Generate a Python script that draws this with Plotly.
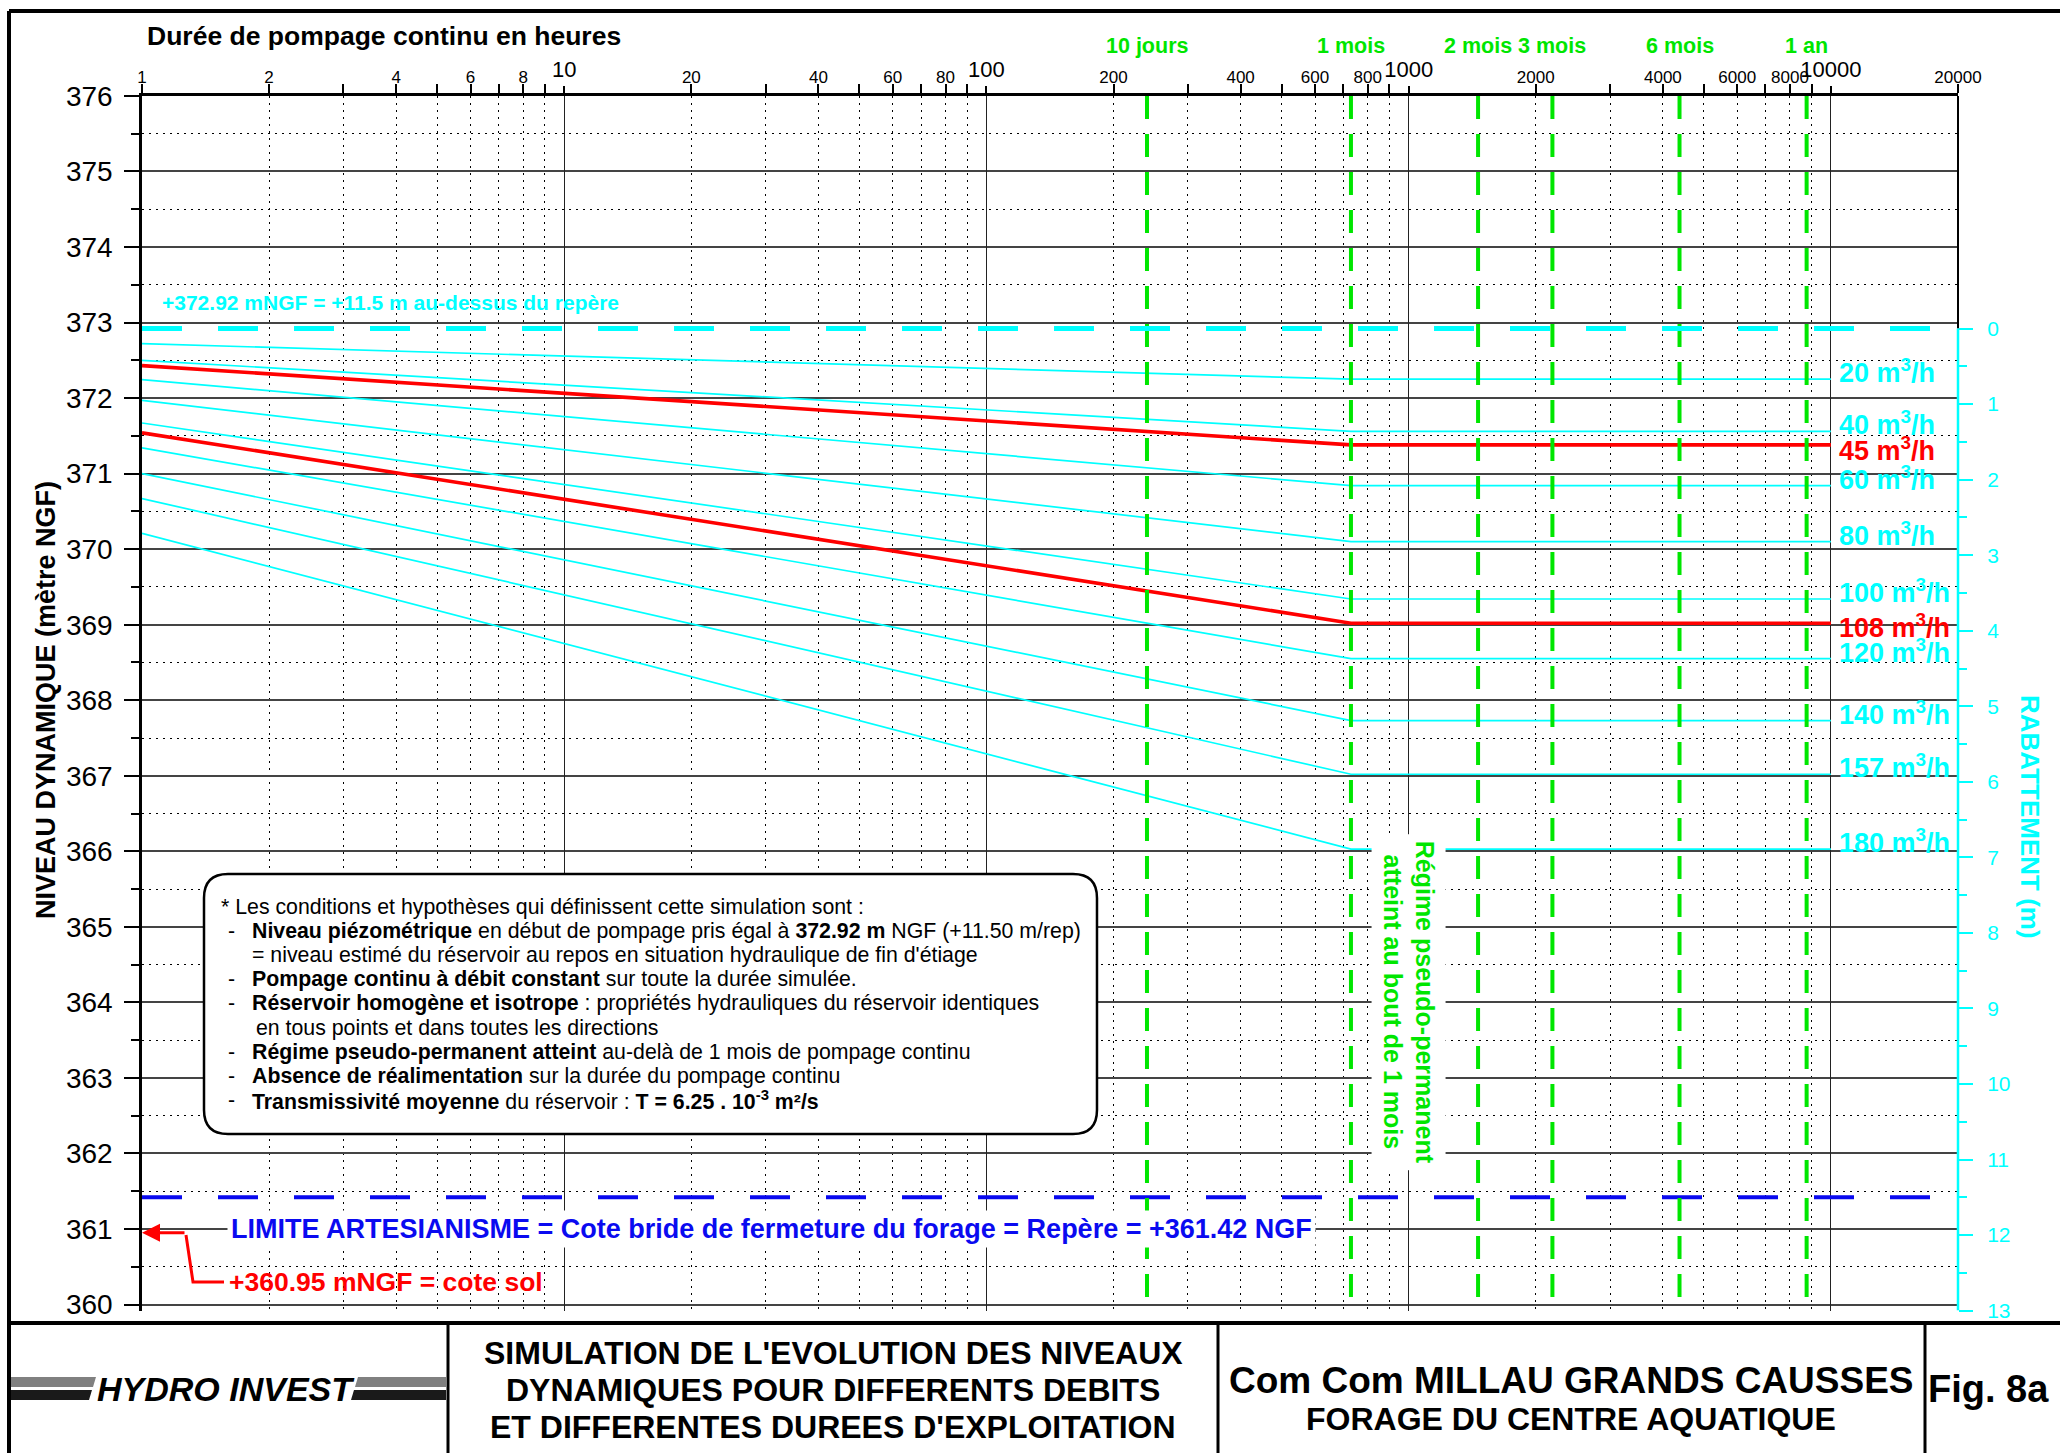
import numpy as np
import plotly.graph_objects as go

# ---------------- data ----------------
flow_rates = [20, 40, 45, 60, 80, 100, 108, 120, 140, 157, 180]          # m3/h
level_at_1h = [372.72, 372.50, 372.43, 372.245, 371.97, 371.67, 371.54,
               371.34, 371.00, 370.67, 370.21]                           # m NGF after 1 h
level_pseudo_perm = [372.25, 371.56, 371.38, 370.84, 370.10, 369.34, 369.02,
                     368.55, 367.73, 367.02, 366.03]                      # m NGF from 1 mois on
highlighted_rates = [45, 108]

t_first = 1          # h
t_pseudo_perm = 730  # h (1 mois)
t_last = 10000       # h

static_level = 372.92     # niveau piézométrique initial
artesian_limit = 361.42   # cote bride = repère
ground_level = 360.95     # cote sol

milestone_hours = [240, 730, 1460, 2190, 4380, 8760]
milestone_labels = ["10 jours", "1 mois", "2 mois", "3 mois", "6 mois", "1 an"]

level_ticks = list(range(360, 377))
drawdown_ticks = list(range(0, 14))
hour_small_labels = [1, 2, 4, 6, 8, 20, 40, 60, 80, 200, 400, 600, 800,
                     2000, 4000, 6000, 8000, 20000]
hour_decade_labels = [10, 100, 1000, 10000]

# ---------------- styles ----------------
W, H = 2060, 1453
CYAN = "#00FFFF"
RED = "#FF0000"
GREEN = "#00E600"
BLUE = "#0A0AF0"
FONT = "Liberation Sans, Arial, sans-serif"


def px(x):
    return x / W


def py(y):
    return 1 - y / H


x_min, x_max = 1, max(hour_small_labels)
y_bottom = static_level - max(drawdown_ticks)   # 359.92
y_top = max(level_ticks)

X_DOM = [px(142), px(1958)]
Y_DOM = [py(1310.6), py(95.9)]

fig = go.Figure()

# rate curves: cyan first, highlighted (red) later
order = [i for i, q in enumerate(flow_rates) if q not in highlighted_rates] + \
        [i for i, q in enumerate(flow_rates) if q in highlighted_rates]
for i in order:
    q = flow_rates[i]
    red = q in highlighted_rates
    fig.add_trace(go.Scatter(
        x=[t_first, t_pseudo_perm, t_last],
        y=[level_at_1h[i], level_pseudo_perm[i], level_pseudo_perm[i]],
        mode="lines", line=dict(color=RED if red else CYAN, width=3.6 if red else 1.7),
        hoverinfo="skip", showlegend=False))

# artesian limit
fig.add_trace(go.Scatter(x=[x_min, x_max], y=[artesian_limit, artesian_limit], mode="lines",
                         line=dict(color=BLUE, width=4, dash="40px,36px"),
                         hoverinfo="skip", showlegend=False))

# duration milestones
for h in milestone_hours:
    fig.add_trace(go.Scatter(x=[h, h], y=[y_top, level_ticks[0]], mode="lines",
                             line=dict(color=GREEN, width=4, dash="23px,15px"),
                             hoverinfo="skip", showlegend=False))

# static level = drawdown 0 (on the drawdown axis)
fig.add_trace(go.Scatter(x=[x_min, x_max], y=[0, 0], xaxis="x2", yaxis="y2", mode="lines",
                         line=dict(color=CYAN, width=5, dash="40px,36px"),
                         hoverinfo="skip", showlegend=False))

# ---------------- axes ----------------
all_hours = [m * 10 ** k for k in range(0, 4) for m in range(1, 10)] + [10000, 20000]
minor_hours = [v for v in all_hours if v not in [1, 10, 100, 1000, 10000]]
x_range = [np.log10(x_min), np.log10(x_max)]

fig.update_layout(
    template="none",
    width=W, height=H, autosize=False,
    margin=dict(l=0, r=0, t=0, b=0, pad=0),
    paper_bgcolor="white", plot_bgcolor="white",
    hovermode=False, showlegend=False,
    font=dict(family=FONT, color="black"),
    xaxis=dict(type="log", range=x_range, domain=X_DOM, side="top", anchor="y",
               automargin=False,
               tickmode="array", tickvals=hour_small_labels,
               ticktext=[str(v) for v in hour_small_labels],
               ticks="outside", ticklen=9, tickwidth=1.5, tickcolor="black",
               tickfont=dict(family=FONT, size=17, color="black"),
               ticklabelstandoff=-6,
               showgrid=False, zeroline=False,
               showline=True, linewidth=2.5, linecolor="black",
               minor=dict(tickmode="array", tickvals=minor_hours,
                          ticks="outside", ticklen=9, tickwidth=1.5, tickcolor="black",
                          showgrid=True, gridcolor="black", gridwidth=1, griddash="2px,5px")),
    xaxis2=dict(type="log", range=x_range, domain=X_DOM, side="top", anchor="y",
                overlaying="x", automargin=False,
                tickmode="array", tickvals=hour_decade_labels,
                ticktext=[str(v) for v in hour_decade_labels],
                ticks="outside", ticklen=9, tickwidth=1.5, tickcolor="black",
                tickfont=dict(family=FONT, size=22, color="black"),
                showgrid=True, gridcolor="#222222", gridwidth=1, zeroline=False,
                showline=False),
    yaxis=dict(range=[y_bottom, y_top], domain=Y_DOM, anchor="x", automargin=False,
               tickmode="array", tickvals=level_ticks, ticktext=[str(v) for v in level_ticks],
               ticks="outside", ticklen=15, tickwidth=2, tickcolor="black",
               tickfont=dict(family=FONT, size=28, color="black"),
               ticklabelstandoff=6,
               showgrid=True, gridcolor="#444444", gridwidth=1.5, zeroline=False,
               showline=True, linewidth=2.5, linecolor="black",
               minor=dict(tickmode="array", tickvals=[v + 0.5 for v in level_ticks[:-1]],
                          ticks="outside", ticklen=8, tickwidth=2, tickcolor="black",
                          showgrid=True, gridcolor="black", gridwidth=1, griddash="2px,5px")),
    yaxis2=dict(range=[static_level - y_bottom, static_level - y_top], domain=Y_DOM,
                anchor="x", overlaying="y", side="right", automargin=False,
                tickmode="array", tickvals=drawdown_ticks,
                ticktext=[str(v) for v in drawdown_ticks],
                ticks="outside", ticklen=14, tickwidth=2, tickcolor=CYAN,
                tickfont=dict(family=FONT, size=21, color=CYAN),
                ticklabelstandoff=10,
                showgrid=False, zeroline=False, showline=False,
                minor=dict(tickmode="array", tickvals=[v + 0.5 for v in drawdown_ticks[:-1]],
                           ticks="outside", ticklen=8, tickwidth=2, tickcolor=CYAN,
                           showgrid=False)),
)

# ---------------- shapes ----------------
shapes = []
# right frame edge above the static level, cyan drawdown axis line below
shapes.append(dict(type="line", xref="x domain", yref="y", x0=1, x1=1,
                   y0=static_level, y1=y_top, line=dict(color="black", width=2)))
shapes.append(dict(type="line", xref="x domain", yref="y2", x0=1, x1=1,
                   y0=0, y1=max(drawdown_ticks), line=dict(color=CYAN, width=2.5)))

# outer frame and title block
frame_w = 4
for (x0, y0, x1, y1, w) in [(9, 11, W, 11, frame_w), (9, 11, 9, H, frame_w),
                            (9, 1323, W, 1323, frame_w),
                            (448, 1323, 448, H, 3), (1218, 1323, 1218, H, 3),
                            (1925, 1323, 1925, H, 3)]:
    shapes.append(dict(type="line", xref="paper", yref="paper",
                       x0=px(x0), y0=py(y0), x1=px(x1), y1=py(y1),
                       line=dict(color="black", width=w)))


def P(a, b):
    return f"{px(a):.5f},{py(b):.5f}"


def poly(points):
    return "M " + " L ".join(P(a, b) for a, b in points) + " Z"


# logo stripes
for pts, col in [([(11, 1377), (96, 1377), (93, 1387), (11, 1387)], "#808080"),
                 ([(11, 1390), (92, 1390), (89, 1400), (11, 1400)], "#1a1a1a"),
                 ([(358, 1377), (446, 1377), (446, 1387), (355, 1387)], "#808080"),
                 ([(354, 1390), (446, 1390), (446, 1400), (351, 1400)], "#1a1a1a")]:
    shapes.append(dict(type="path", xref="paper", yref="paper", path=poly(pts),
                       fillcolor=col, line=dict(width=0)))

# rounded note box
bx0, by0, bx1, by1, r = 204, 874, 1097, 1134, 24
box_path = (f"M {P(bx0 + r, by0)} L {P(bx1 - r, by0)} Q {P(bx1, by0)} {P(bx1, by0 + r)} "
            f"L {P(bx1, by1 - r)} Q {P(bx1, by1)} {P(bx1 - r, by1)} "
            f"L {P(bx0 + r, by1)} Q {P(bx0, by1)} {P(bx0, by1 - r)} "
            f"L {P(bx0, by0 + r)} Q {P(bx0, by0)} {P(bx0 + r, by0)} Z")
shapes.append(dict(type="path", xref="paper", yref="paper", path=box_path,
                   fillcolor="white", line=dict(color="black", width=2.5), layer="above"))

# red elbow to the ground level arrow
shapes.append(dict(type="path", xref="paper", yref="paper",
                   path=f"M {P(186, 1235)} L {P(193, 1282)} L {P(224, 1282)}",
                   line=dict(color=RED, width=3)))
fig.update_layout(shapes=shapes)

# ---------------- annotations ----------------
ann = []


def A(**kw):
    d = dict(showarrow=False)
    d.update(kw)
    ann.append(d)


# rate labels
label_shift = {45: -4, 108: -3}
for i, q in enumerate(flow_rates):
    red = q in highlighted_rates
    A(x=np.log10(t_last), y=level_pseudo_perm[i], xref="x", yref="y",
      text=f"<b>{q} m<sup>3</sup>/h</b>", xanchor="left", yanchor="middle",
      xshift=6, yshift=label_shift.get(q, 8),
      font=dict(family=FONT, size=27, color=RED if red else CYAN))

# milestone labels
for h, lab in zip(milestone_hours, milestone_labels):
    A(x=np.log10(h), y=py(46), xref="x", yref="paper", text=f"<b>{lab}</b>",
      xanchor="center", yanchor="middle", font=dict(family=FONT, size=21.5, color=GREEN))

# titles
A(x=px(145), y=py(36), xref="paper", yref="paper", xanchor="left", yanchor="middle",
  text="<b>Durée de pompage continu en heures</b>", font=dict(family=FONT, size=26.5, color="black"))
A(x=px(46), y=py(700), xref="paper", yref="paper", xanchor="center", yanchor="middle",
  textangle=-90, text="<b>NIVEAU DYNAMIQUE (mètre NGF)</b>",
  font=dict(family=FONT, size=27, color="black"))
A(x=px(2030), y=py(817), xref="paper", yref="paper", xanchor="center", yanchor="middle",
  textangle=90, text="<b>RABATTEMENT (m)</b>", font=dict(family=FONT, size=26, color=CYAN))

# static level text
A(x=px(160), y=static_level + 0.35, xref="paper", yref="y", xanchor="left", yanchor="middle",
  text=f"<b>+{static_level:.2f} mNGF = +11.5 m au-dessus du repère</b>",
  font=dict(family=FONT, size=21, color=CYAN))

# artesian limit text
A(x=px(227), y=361.0, xref="paper", yref="y", xanchor="left", yanchor="middle",
  text=f"<b>LIMITE ARTESIANISME = Cote bride de fermeture du forage = Repère = +{artesian_limit:.2f} NGF</b>",
  font=dict(family=FONT, size=27, color=BLUE), bgcolor="white", borderpad=3)

# ground level text + arrow
A(x=px(227), y=ground_level - 0.65, xref="paper", yref="y", xanchor="left", yanchor="middle",
  text=f"<b>+{ground_level:.2f} mNGF = cote sol</b>",
  font=dict(family=FONT, size=26.5, color=RED))
ann.append(dict(x=np.log10(x_min), y=ground_level, xref="x", yref="y", text="",
                showarrow=True, ax=44, ay=0, axref="pixel", ayref="pixel",
                arrowhead=2, arrowsize=1.2, arrowwidth=3, arrowcolor=RED, standoff=0))

# pseudo-permanent regime text
A(x=np.log10(1000), y=364.0, xref="x", yref="y", xanchor="center", yanchor="middle",
  textangle=90, align="center",
  text="<b>Régime pseudo-permanent<br>atteint au bout de 1 mois</b>",
  font=dict(family=FONT, size=25, color=GREEN), bgcolor="white", borderpad=6)

# note box text
note_lines = [
    (219, None, "* Les conditions et hypothèses qui définissent cette simulation sont :"),
    (250, "-", f"<b>Niveau piézométrique</b> en début de pompage pris égal à <b>{static_level:.2f} m</b> NGF (+11.50 m/rep)"),
    (250, None, "= niveau estimé du réservoir au repos en situation hydraulique de fin d'étiage"),
    (250, "-", "<b>Pompage continu à débit constant</b> sur toute la durée simulée."),
    (250, "-", "<b>Réservoir homogène et isotrope</b> : propriétés hydrauliques du réservoir identiques"),
    (254, None, "en tous points et dans toutes les directions"),
    (250, "-", "<b>Régime pseudo-permanent atteint</b> au-delà de 1 mois de pompage continu"),
    (250, "-", "<b>Absence de réalimentation</b> sur la durée du pompage continu"),
    (250, "-", "<b>Transmissivité moyenne</b> du réservoir : <b>T = 6.25 . 10<sup>-3</sup> m²/s</b>"),
]
for k, (xl, bullet, txt) in enumerate(note_lines):
    yl = 906.5 + k * 24.2
    if bullet:
        A(x=px(231), y=py(yl), xref="paper", yref="paper", xanchor="center", yanchor="middle",
          text=bullet, font=dict(family=FONT, size=21.3, color="black"))
    A(x=px(xl), y=py(yl), xref="paper", yref="paper", xanchor="left", yanchor="middle",
      text=txt, font=dict(family=FONT, size=21.3, color="black"))

# title block
A(x=px(226), y=py(1389), xref="paper", yref="paper", xanchor="center", yanchor="middle",
  text="<b><i>HYDRO INVEST</i></b>", font=dict(family=FONT, size=34, color="black"))
for k, line in enumerate(["SIMULATION DE L'EVOLUTION DES NIVEAUX",
                          "DYNAMIQUES POUR DIFFERENTS DEBITS",
                          "ET DIFFERENTES DUREES D'EXPLOITATION"]):
    A(x=px(833), y=py(1353 + 37 * k), xref="paper", yref="paper", xanchor="center",
      yanchor="middle", text=f"<b>{line}</b>", font=dict(family=FONT, size=32, color="black"))
A(x=px(1571), y=py(1380), xref="paper", yref="paper", xanchor="center", yanchor="middle",
  text="<b>Com Com MILLAU GRANDS CAUSSES</b>", font=dict(family=FONT, size=37, color="black"))
A(x=px(1571), y=py(1419), xref="paper", yref="paper", xanchor="center", yanchor="middle",
  text="<b>FORAGE DU CENTRE AQUATIQUE</b>", font=dict(family=FONT, size=32, color="black"))
A(x=px(1988), y=py(1389), xref="paper", yref="paper", xanchor="center", yanchor="middle",
  text="<b>Fig. 8a</b>", font=dict(family=FONT, size=38, color="black"))

fig.update_layout(annotations=ann)

fig.write_html("out.html", config={"displayModeBar": False},
               post_script="document.body.style.margin='0px';document.body.style.padding='0px';"
                           "document.body.style.overflow='hidden';")
